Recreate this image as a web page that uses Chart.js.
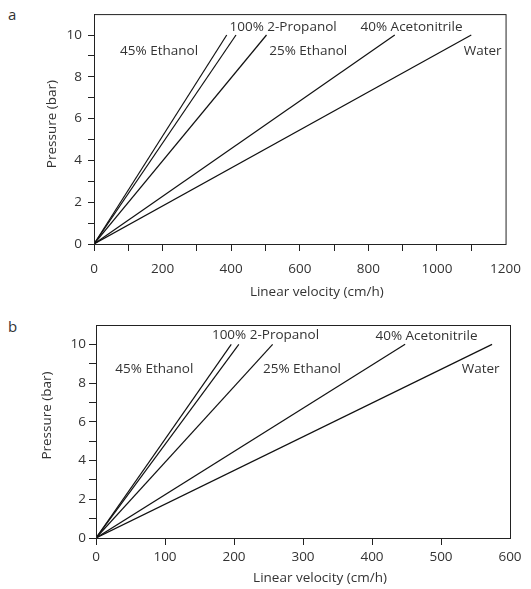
<!DOCTYPE html>
<html>
<head>
<meta charset="utf-8">
<script src="https://cdn.jsdelivr.net/npm/chart.js@4.4.1/dist/chart.umd.min.js"></script>
<style>
  html, body { margin: 0; padding: 0; background: #fff; }
  #wrap { position: relative; width: 531px; height: 589px; font-family: "Open Sans", sans-serif; color: #333; }
  #wrap canvas { position: absolute; left: 0; }
  .panel { position: absolute; left: 8px; font-size: 15px; line-height: 15px; }
</style>
</head>
<body>
<div id="wrap">
  <div class="panel" style="top:7px">a</div>
  <div class="panel" style="top:319px">b</div>
  <canvas id="chart_a" width="531" height="300" style="top:0"></canvas>
  <canvas id="chart_b" width="531" height="289" style="top:300px"></canvas>
</div>
<script>
// solvents, same order in both panels
const solvents = ['45% Ethanol', '100% 2-Propanol', '25% Ethanol', '40% Acetonitrile', 'Water'];

// linear velocity (cm/h) reached at 10 bar
const velocityAtTenBarA = [387, 414, 503, 877, 1100];
const velocityAtTenBarB = [196, 207, 256, 448, 574];
const pressureTop = 10;

// axis ranges and ticks
const xMaxA = 1200, xStepA = 100, xLabelEveryA = 200;
const xMaxB = 600, xStepB = 100, xLabelEveryB = 100;
const yMax = 11, yLabels = [0, 2, 4, 6, 8, 10];

// where the solvent names sit, in data units (x, y)
const labelXA = [76, 395, 511, 777, 1078];
const labelYA = [9.25, 10.36, 9.25, 10.36, 9.25];
const labelXB = [28, 168, 242, 405, 530];
const labelYB = [8.72, 10.46, 8.72, 10.43, 8.72];

const FONT_SIZE = 13.5;
const FONT = FONT_SIZE + 'px "Open Sans", sans-serif';
const INK = '#333';

// frame box, solvent names and axis titles
const overlay = {
  id: 'overlay',
  afterDraw(chart, args, opts) {
    const { ctx, chartArea: a, scales: { x, y } } = chart;
    ctx.save();
    ctx.strokeStyle = '#222';
    ctx.lineWidth = 1;
    ctx.strokeRect(a.left + 0.5, a.top + 0.5, a.right - a.left, a.bottom - a.top);

    ctx.font = FONT;
    ctx.fillStyle = INK;
    ctx.textBaseline = 'middle';
    ctx.textAlign = 'left';
    solvents.forEach((name, i) => {
      ctx.fillText(name, x.getPixelForValue(opts.lx[i]), y.getPixelForValue(opts.ly[i]));
    });

    ctx.textAlign = 'center';
    ctx.fillText('Linear velocity (cm/h)', (a.left + a.right) / 2 + opts.xTitleShift, a.bottom + opts.xTitleDrop);
    ctx.translate(opts.yTitleX, (a.top + a.bottom) / 2 + opts.yTitleShift);
    ctx.rotate(-Math.PI / 2);
    ctx.fillText('Pressure (bar)', 0, 0);
    ctx.restore();
  }
};

const makeChart = (canvasId, velocities, cfg) => {
  const datasets = velocities.map((v, i) => ({
    label: solvents[i],
    data: [{ x: 0, y: 0 }, { x: v, y: pressureTop }],
    borderColor: '#111',
    borderWidth: 1.2,
    pointRadius: 0,
    fill: false,
  }));

  const hideEdge = (max) => (c) => (c.tick && c.tick.value === max ? 'rgba(0,0,0,0)' : '#222');

  return new Chart(document.getElementById(canvasId).getContext('2d'), {
    type: 'line',
    data: { datasets },
    options: {
      responsive: false,
      animation: false,
      devicePixelRatio: 1,
      layout: { padding: { left: 0, top: cfg.top, right: cfg.right, bottom: 0 } },
      scales: {
        x: {
          type: 'linear',
          min: 0,
          max: cfg.xMax,
          grid: { display: true, drawOnChartArea: false, drawTicks: true, tickLength: 7, color: hideEdge(cfg.xMax) },
          border: { display: true, color: '#222' },
          ticks: {
            stepSize: cfg.xStep,
            padding: cfg.xPad,
            color: INK,
            font: { family: '"Open Sans", sans-serif', size: FONT_SIZE },
            maxRotation: 0,
            autoSkip: false,
            callback: (v) => (v % cfg.xLabelEvery === 0 ? String(v) : ''),
          },
          afterFit: (s) => { s.height = cfg.xHeight; },
        },
        y: {
          min: 0,
          max: yMax,
          grid: { display: true, drawOnChartArea: false, drawTicks: true, tickLength: cfg.yTick, color: hideEdge(yMax) },
          border: { display: true, color: '#222' },
          ticks: {
            stepSize: 1,
            padding: cfg.yPad,
            color: INK,
            font: { family: '"Open Sans", sans-serif', size: FONT_SIZE },
            autoSkip: false,
            callback: (v) => (yLabels.includes(v) ? String(v) : ''),
          },
          afterFit: (s) => { s.width = cfg.yWidth; },
        },
      },
      plugins: {
        legend: { display: false },
        tooltip: { enabled: false },
        overlay: {
          lx: cfg.lx, ly: cfg.ly,
          xTitleShift: cfg.xTitleShift, xTitleDrop: cfg.xTitleDrop,
          yTitleX: cfg.yTitleX, yTitleShift: cfg.yTitleShift,
        },
      },
    },
    plugins: [overlay],
  });
};

makeChart('chart_a', velocityAtTenBarA, {
  top: 11, right: 23, yWidth: 94, xHeight: 56,
  xMax: xMaxA, xStep: xStepA, xLabelEvery: xLabelEveryA,
  xPad: 10, yPad: 6, yTick: 6,
  lx: labelXA, ly: labelYA,
  xTitleShift: 17, xTitleDrop: 48, yTitleX: 52, yTitleShift: -5,
});

makeChart('chart_b', velocityAtTenBarB, {
  top: 25, right: 21, yWidth: 96, xHeight: 51,
  xMax: xMaxB, xStep: xStepB, xLabelEvery: xLabelEveryB,
  xPad: 4, yPad: 3, yTick: 7,
  lx: labelXB, ly: labelYB,
  xTitleShift: 17, xTitleDrop: 40, yTitleX: 47, yTitleShift: -16,
});
</script>
</body>
</html>
